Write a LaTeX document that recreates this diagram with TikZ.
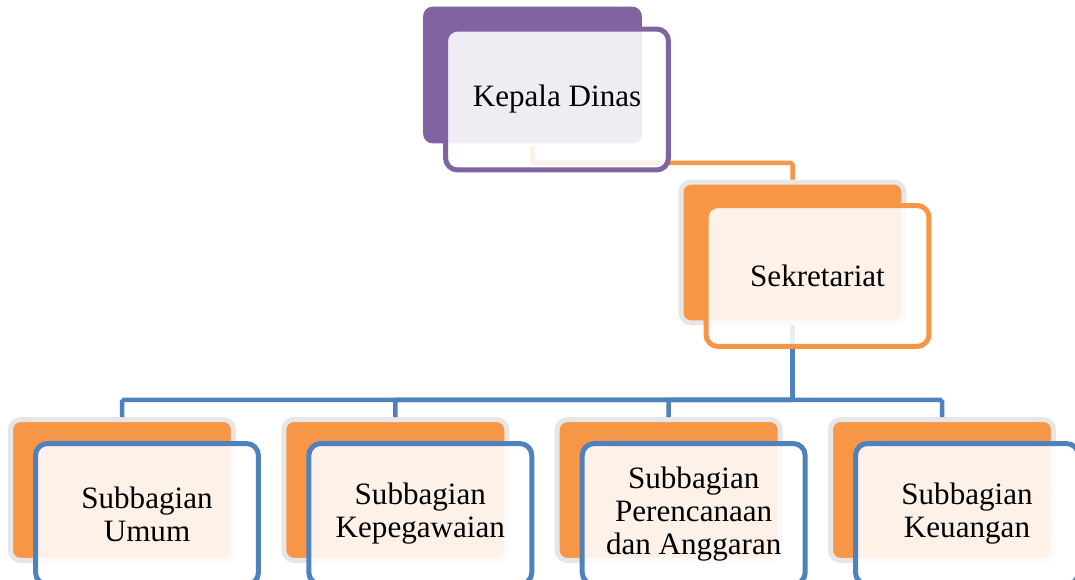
\documentclass[tikz,border=0pt]{standalone}
\usepackage{fontspec}
\setmainfont{Liberation Serif}
\usepackage{tikz}

\definecolor{dinasPurple}{HTML}{8064A2}
\definecolor{dinasOrange}{HTML}{F79646}
\definecolor{dinasBlue}{HTML}{4F81BD}
\definecolor{dinasGray}{HTML}{E6E6E6}

\tikzset{
  backbox/.style={minimum width=4.46cm, minimum height=2.82cm, rounded corners=0.2cm,
    fill=dinasOrange, draw=dinasGray, line width=0.1cm},
  frontbox/.style={minimum width=4.46cm, minimum height=2.82cm, rounded corners=0.24cm,
    draw=#1, line width=0.1cm, fill=white, fill opacity=0.88, text opacity=1,
    align=center, font=\fontsize{17.7}{18.8}\selectfont},
  link/.style={draw=#1, line width=0.09cm, rounded corners=1pt}
}

\begin{document}
\begin{tikzpicture}[x=0.02cm, y=-0.02cm]

\clip (0,0) rectangle (1075,580);

% back boxes
\node [backbox, fill=dinasPurple, draw=none, minimum width=4.38cm, minimum height=2.74cm] (kepalaB) at (532.5,75) {};
\node [backbox] (sekB) at (792.5,252.5) {};
\foreach \i/\x in {1/122,2/395.3,3/668.7,4/942}
    \node [backbox] (sub\i B) at (\x,490) {};

% connectors
\draw [link=dinasOrange] (kepalaB.south) -- ++(0,17) -| (sekB.north);
\foreach \i in {1,2,3,4}
    \draw [link=dinasBlue] (sekB.south) -- ++(0,74.5) -| (sub\i B.north);

% front boxes
\node [frontbox=dinasPurple] (kepala) at (557,99.5) {Kepala Dinas};
\node [frontbox=dinasOrange] (sek) at (817.5,276) {Sekretariat};
\foreach \i/\x/\txt in {1/147/{Subbagian\\Umum},
                        2/420.3/{Subbagian\\Kepegawaian},
                        3/693.7/{Subbagian\\Perencanaan\\dan Anggaran},
                        4/967/{Subbagian\\Keuangan}}
    \node [frontbox=dinasBlue] (sub\i) at (\x,514) {\txt};

\end{tikzpicture}
\end{document}
